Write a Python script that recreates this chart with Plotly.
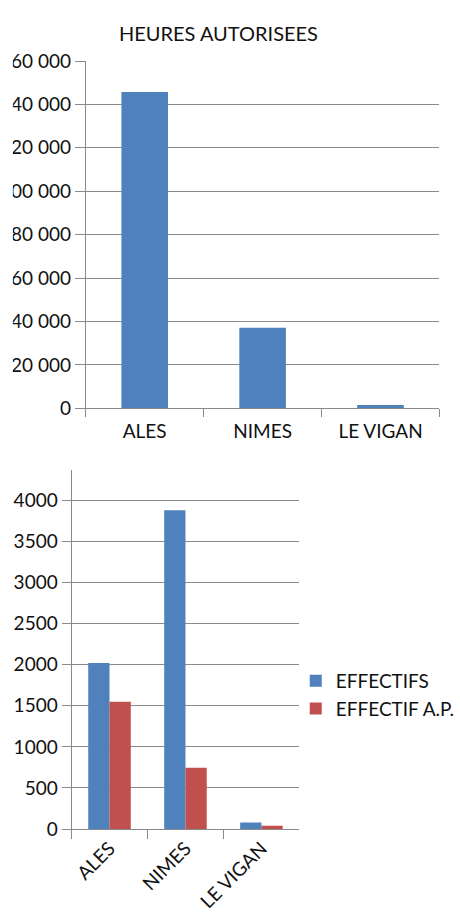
import plotly.graph_objects as go

# ---- data ----
sites = ["ALES", "NIMES", "LE VIGAN"]
heures_autorisees = [145700, 37100, 1500]
effectifs = [2020, 3880, 80]
effectif_ap = [1550, 745, 40]
top_ticks = [0, 20000, 40000, 60000, 80000, 100000, 120000, 140000, 160000]
top_tick_text = ["0", "20 000", "40 000", "60 000", "80 000", "100 000", "120 000", "140 000", "160 000"]
bottom_ticks = [0, 500, 1000, 1500, 2000, 2500, 3000, 3500, 4000]

W, H = 460, 916
BLUE = "#4F81BD"
RED = "#C0504D"
GRID = "#8a8a8a"
FONT = "Lato, sans-serif"

def px_x(p):
    return p / W

def px_y(p):
    return 1 - p / H

fig = go.Figure()

fig.add_trace(go.Bar(x=sites, y=heures_autorisees, marker_color=BLUE, marker_line_width=0,
                     width=0.395, xaxis="x", yaxis="y", showlegend=False,
                     name="HEURES AUTORISEES"))
fig.add_trace(go.Bar(x=sites, y=effectifs, marker_color=BLUE, marker_line_width=0,
                     width=0.28, offset=-0.28, xaxis="x2", yaxis="y2", name="EFFECTIFS"))
fig.add_trace(go.Bar(x=sites, y=effectif_ap, marker_color=RED, marker_line_width=0,
                     width=0.28, offset=0, xaxis="x2", yaxis="y2", name="EFFECTIF A.P."))

axis_common = dict(showline=True, linecolor=GRID, linewidth=1, automargin=False,
                   tickfont=dict(family=FONT, size=19, color="#111"), zeroline=False)

fig.update_layout(
    width=W, height=H, template="none",
    paper_bgcolor="white", plot_bgcolor="white",
    margin=dict(l=0, r=0, t=0, b=0),
    font=dict(family=FONT, size=19, color="#111"),
    barmode="overlay",
    xaxis=dict(domain=[px_x(86.7), px_x(444.3)], anchor="y", showgrid=False,
               ticks="outside", tickson="boundaries", ticklen=8, tickcolor=GRID,
               ticklabelstandoff=6, **axis_common),
    yaxis=dict(domain=[px_y(408.3), px_y(61)], anchor="x", range=[0, 160000],
               tickvals=top_ticks, ticktext=top_tick_text,
               showgrid=True, gridcolor=GRID, gridwidth=1,
               ticks="outside", ticklen=10, tickcolor=GRID, **axis_common),
    xaxis2=dict(domain=[px_x(72.3), px_x(302.7)], anchor="y2", showgrid=False,
                ticks="outside", tickson="boundaries", ticklen=9, tickcolor=GRID,
                tickangle=-45, **axis_common),
    yaxis2=dict(domain=[px_y(829), px_y(470)], anchor="x2", range=[0, 4370],
                tickvals=bottom_ticks,
                showgrid=True, gridcolor=GRID, gridwidth=1,
                ticks="outside", ticklen=9, tickcolor=GRID, **axis_common),
    legend=dict(x=px_x(299), y=px_y(662), xanchor="left", yanchor="top",
                font=dict(family=FONT, size=19, color="#111"),
                bgcolor="rgba(0,0,0,0)", tracegroupgap=0),
    annotations=[dict(text="HEURES AUTORISEES", x=px_x(221), y=px_y(19),
                      xref="paper", yref="paper", showarrow=False,
                      font=dict(family=FONT, size=20, color="#111"))],
    shapes=[dict(type="rect", xref="paper", yref="paper", x0=-0.01, x1=px_x(13),
                 y0=px_y(440), y1=px_y(45), fillcolor="white", line_width=0, layer="above")],
)

fig.write_html("out.html")
